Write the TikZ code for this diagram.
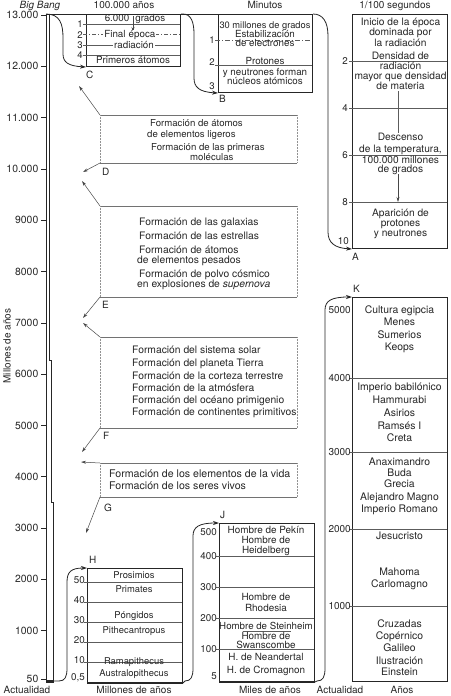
\documentclass[tikz,border=0pt]{standalone}
\usepackage{fontspec}
\setmainfont{TeX Gyre Heros}
\usetikzlibrary{arrows.meta}
\definecolor{ink}{HTML}{262626}
\begin{document}
\begin{tikzpicture}[x=1pt,y=-1pt,
  fs/.style={font=\fontsize{#1}{#1}\selectfont},
  txt/.style={fs=10, inner sep=0pt, anchor=base, text=ink},
  txtw/.style={txt, anchor=base west},
  txte/.style={txt, anchor=base east},
  bigbox/.style={draw=ink, line width=1pt, inner sep=0pt, anchor=north west},
  grid/.style={draw=ink!75, line width=0.5pt},
  flow/.style={draw=ink, line width=0.8pt, -{Stealth[length=6pt,width=4pt]}},
  pointer/.style={draw=ink!85, line width=0.5pt, -{Stealth[length=5pt,width=3pt]}},
  tb/.style={draw=ink!65, line width=0.5pt},
  tbv/.style={draw=ink!50, line width=0.5pt, densely dotted},
]
\useasboundingbox (0,0) rectangle (450,696);

% ---------------- left axis
\coordinate (BB) at (46,14);
\coordinate (NOW) at (54,681);
\draw[ink,line width=0.9pt] (46,14) -- (46,682);
\draw[ink,line width=0.6pt] (49.5,14) -- (49.5,360) -- (51.5,360) -- (51.5,502) -- (53.5,502) -- (53.5,682);
\fill[ink] (45.5,679.5) rectangle (54,683);
\foreach \v/\lab [count=\i] in {13/13.000,12/12.000,11/11.000,10/10.000,9/9000,8/8000,7/7000,6/6000,5/5000,4/4000,3/3000,2/2000,1/1000}{
  \pgfmathsetmacro\yy{15+(13-\v)*51.3}
  \draw[ink,line width=0.6pt] (41,\yy) -- (46,\yy);
  \node[txte, fs=10.4] (ax\i) at (38.5,\yy+3.6) {\lab};
}
\draw[ink,line width=0.6pt] (41,679) -- (46,679);
\node[txte, fs=10.4] (ax50) at (38.5,682) {50};
\node[txt, rotate=90, anchor=center] (axtitle) at (7,346) {Millones de años};

% ---------------- top and bottom captions
\node[txt] (capBB) at (40,8.5) {\itshape Big Bang};
\node[txt] (capC) at (124,8.5) {100.000 años};
\node[txt] (capB) at (265,8.5) {Minutos};
\node[txt] (capA) at (395,8.5) {1/100 segundos};
\node[txt] (capN1) at (27,693.5) {Actualidad};
\node[txt] (capH) at (134,693.5) {Millones de años};
\node[txt] (capJ) at (270,693.5) {Miles de años};
\node[txt] (capN2) at (340,693.5) {Actualidad};
\node[txt] (capK) at (402,693.5) {Años};

% ---------------- main boxes
\node[bigbox, minimum width=94pt, minimum height=52pt] (boxC) at (86,14) {};
\node[bigbox, minimum width=94pt, minimum height=78pt] (boxB) at (218,14) {};
\node[bigbox, minimum width=95pt, minimum height=234pt] (boxA) at (352,14) {};
\node[bigbox, minimum width=95pt, minimum height=114pt] (boxH) at (87,568) {};
\node[bigbox, minimum width=95pt, minimum height=158pt] (boxJ) at (219,523) {};
\node[bigbox, minimum width=95pt, minimum height=384pt] (boxK) at (352,297) {};
\draw[ink,line width=2pt] (boxH.south west) -- (boxH.south east);
\draw[ink,line width=2pt] (boxJ.south west) -- (boxJ.south east);

% top line
\draw[ink,line width=0.9pt] (BB) -- (boxC.north west);
\draw[ink,line width=0.9pt] (boxC.north east) -- (boxB.north west);

% ---------------- flow arrows
\draw[flow] (BB) .. controls (60,14) and (63,24) .. (63,38) -- (63,54) .. controls (63,62) and (68,66) .. (boxC.south west);
\draw[flow] (boxC.north east) -- (183,14) .. controls (191,14) and (194,22) .. (194,34) -- (194,78) .. controls (194,87) and (199,92) .. (boxB.south west);
\draw[flow] (boxB.north east) -- (313,14) .. controls (323,14) and (328,22) .. (328,36) -- (328,232) .. controls (328,243) and (335,248) .. (boxA.south west);
\draw[flow] (NOW) -- (59,681) .. controls (65,681) and (67,677) .. (67,668) -- (67,582) .. controls (67,572) and (71,568) .. (boxH.north west);
\draw[flow] (boxH.south east) -- (185,681) .. controls (191,681) and (193,677) .. (193,668) -- (193,536) .. controls (193,527) and (199,523) .. (boxJ.north west);
\draw[flow] (boxJ.south east) -- (317,681) .. controls (323,681) and (325,677) .. (325,668) -- (325,310) .. controls (325,301) and (331,297) .. (boxK.north west);

% letters
\node[txtw] (lC) at (86,78) {C};
\node[txtw] (lB) at (219,102) {B};
\node[txtw] (lA) at (352,260) {A};
\node[txtw] (lD) at (102,175.5) {D};
\node[txtw] (lE) at (102,308.5) {E};
\node[txtw] (lF) at (103,439.5) {F};
\node[txtw] (lG) at (104,511.5) {G};
\node[txtw] (lH) at (89,563.5) {H};
\node[txtw] (lJ) at (220,518) {J};
\node[txtw] (lK) at (353,292) {K};

% ---------------- box C
\draw[grid] (83,24) -- (180,24);
\draw[grid,dash pattern=on 4pt off 2pt on 1pt off 2pt] (83,34.5) -- (180,34.5);
\draw[grid] (83,45) -- (180,45);
\draw[grid] (83,55) -- (180,55);
\foreach \yy/\lab [count=\i] in {24/1,34.5/2,45/3,55/4} \node[txte, fs=9.6] (cl\i) at (83,\yy+3.5) {\lab};
\node[txt, fs=9.8] (c1) at (135,21.5) {6.000\hspace{6pt}grados};
\coordinate (cArrA) at (133,16);
\coordinate (cArrB) at (133,32);
\draw[pointer] (cArrA) -- (cArrB);
\node[txt, fs=9.8, fill=white, inner xsep=1pt] (c2) at (115,37.5) {Final};
\node[txt, fs=9.8, fill=white, inner xsep=1pt] (c3) at (142,37.5) {época};
\node[txt, fs=9.8, fill=white, inner xsep=1pt] (c4) at (134,48) {radiación};
\node[txt, fs=9.8] (c5) at (133,63) {Primeros átomos};

% ---------------- box B
\draw[grid,dash pattern=on 5pt off 2pt on 1pt off 2pt] (215,40) -- (312,40);
\draw[grid] (215,65.5) -- (312,65.5);
\foreach \yy/\lab [count=\i] in {40/1,62/2,86/3} \node[txte, fs=9.6] (bl\i) at (215,\yy+3.5) {\lab};
\node[txt, fs=9.3] (b1) at (265,28) {30 millones de grados};
\foreach \yy/\tx [count=\i] in {34/Estabilización,43/de electrones,61/Protones,72/y neutrones forman,81/núcleos atómicos}
  \node[txt, fs=9.8] (b\i x) at (265,\yy+3) {\tx};

% ---------------- box A
\foreach \yy/\lab [count=\i] in {61/2,108/4,155/6,202/8} {
  \draw[grid] (349,\yy) -- (447,\yy);
  \node[txte, fs=9.8] (al\i) at (348,\yy+3.5) {\lab};
}
\node[txte, fs=9.8] (al5) at (349,244) {10};
\foreach \yy/\tx [count=\i] in {22/Inicio de la época,32/dominada por,43/la radiación,56/Densidad de,66/radiación,76/mayor que densidad,86/de materia,137/Descenso,149/{de la temperatura,},160/100.000 millones,169/de grados,213/Aparición de,223/protones,233/y neutrones}
  \node[txt, fs=10.2] (A\i) at (400.5,\yy+3.2) {\tx};
\coordinate (aV1) at (398,91);
\coordinate (aV2) at (398,133);
\coordinate (aV3) at (398,174);
\coordinate (aV4) at (398,202);
\draw[grid] (aV1) -- (aV2);
\draw[pointer] (aV3) -- (aV4);

% ---------------- text boxes
\coordinate (T1a) at (100,115); \coordinate (T1b) at (297,115);
\coordinate (T1c) at (297,163); \coordinate (T1d) at (100,163);
\coordinate (T2a) at (100,206); \coordinate (T2b) at (297,206);
\coordinate (T2c) at (297,297); \coordinate (T2d) at (100,297);
\coordinate (T3a) at (100,337); \coordinate (T3b) at (297,337);
\coordinate (T3c) at (297,428); \coordinate (T3d) at (100,428);
\coordinate (T4a) at (100,463); \coordinate (T4b) at (297,463);
\coordinate (T4c) at (297,497); \coordinate (T4d) at (100,497);
\foreach \k in {1,2,3,4}{
  \draw[tb] (T\k a) -- (T\k b);
  \draw[tb] (T\k d) -- (T\k c);
  \draw[tbv] (T\k a) -- (T\k d);
  \draw[tbv] (T\k b) -- (T\k c);
}
\coordinate (pC) at (79,86);
\coordinate (pD) at (83,172);
\coordinate (pD2) at (82,181);
\coordinate (pE) at (83,318);
\coordinate (pE2) at (83,323);
\coordinate (pF) at (82,452);
\coordinate (pF2) at (81,462);
\coordinate (pG) at (86,533);
\draw[pointer] (T1a) -- (pC);
\draw[pointer] (T1d) -- (pD);
\draw[pointer] (T2a) -- (pD2);
\draw[pointer] (T2d) -- (pE);
\draw[pointer] (T3a) -- (pE2);
\draw[pointer] (T3d) -- (pF);
\draw[pointer] (T4a) -- (pF2);
\draw[pointer] (T4d) -- (pG);

\foreach \xx/\yy/\tx [count=\i] in {150/123/Formación de átomos,147/134/de elementos ligeros,151/147/Formación de las primeras,190/157/moléculas}
  \node[txtw, fs=9.6] (Ta\i) at (\xx,\yy+3.2) {\tx};
\foreach \xx/\yy/\tx [count=\i] in {139/222/Formación de las galaxias,139/236/Formación de las estrellas,139/250/Formación de átomos,137/260/de elementos pesados,139/274/Formación de polvo cósmico,137/284/{en explosiones de \textit{supernova}}}
  \node[txtw, fs=10.3] (Tb\i) at (\xx,\yy+3.2) {\tx};
\foreach \yy/\tx [count=\i] in {350/Formación del sistema solar,363/Formación del planeta Tierra,376/Formación de la corteza terrestre,388/Formación de la atmósfera,400/Formación del océano primigenio,412/Formación de continentes primitivos}
  \node[txtw, fs=10.3] (Tc\i) at (132,\yy+3.2) {\tx};
\foreach \yy/\tx [count=\i] in {474/Formación de los elementos de la vida,486/Formación de los seres vivos}
  \node[txtw, fs=10.6] (Td\i) at (109,\yy+3.2) {\tx};

% ---------------- box H
\foreach \yy/\lab [count=\i] in {582/50,602/40,622/30,642/20,662/10} {
  \draw[grid] (84,\yy) -- (182,\yy);
  \node[txte, fs=9.8] (hl\i) at (85,\yy+1.5) {\lab};
}
\node[txte, fs=9.8] (hl6) at (85,680) {0,5};
\foreach \yy/\tx [count=\i] in {575/Prosimios,589/Primates,615/Póngidos,630/Pithecantropus,661/Ramapithecus,673/Australopithecus}
  \node[txt, fs=9.4] (H\i) at (134,\yy+3) {\tx};

% ---------------- box J
\foreach \yy/\lab [count=\i] in {556/400,587/300,618/200,649/100} {
  \draw[grid] (216,\yy) -- (314,\yy);
  \node[txte, fs=9.8] (jl\i) at (217,\yy+3) {\lab};
}
\node[txte, fs=9.8] (jl0) at (217,535) {500};
\node[txte, fs=9.8] (jl5) at (217,679) {5};
\draw[grid] (243,631.5) -- (291,631.5);
\foreach \yy/\tx [count=\i] in {530/Hombre de Pekín,540/Hombre de,550/Heidelberg,597/Hombre de,608/Rhodesia,636/Hombre de,645/Swanscombe,657/H. de Neandertal,670/H. de Cromagnon}
  \node[txt, fs=9.9] (J\i) at (266,\yy+3) {\tx};
\node[txt, fs=9.7] (J0) at (266,629) {Hombre de Steinheim};

% ---------------- box K
\foreach \yy/\lab [count=\i] in {378/4000,452/3000,529/2000,606/1000} {
  \draw[grid] (349,\yy) -- (447,\yy);
  \node[txte, fs=10] (kl\i) at (351,\yy+3.5) {\lab};
}
\node[txte, fs=10] (kl0) at (351,313.5) {5000};
\foreach \yy/\tx [count=\i] in {310/Cultura egipcia,322/Menes,335/Sumerios,347/Keops,387/Imperio babilónico,400/Hammurabi,413/Asirios,426/Ramsés I,438/Creta,462/Anaximandro,473/Buda,484/Grecia,497/Alejandro Magno,509/Imperio Romano,536/Jesucristo,572/Mahoma,584/Carlomagno,624/Cruzadas,636/Copérnico,648/Galileo,661/Ilustración,672/Einstein}
  \node[txt, fs=10.4] (K\i) at (399.5,\yy+3.2) {\tx};

\end{tikzpicture}
\end{document}
